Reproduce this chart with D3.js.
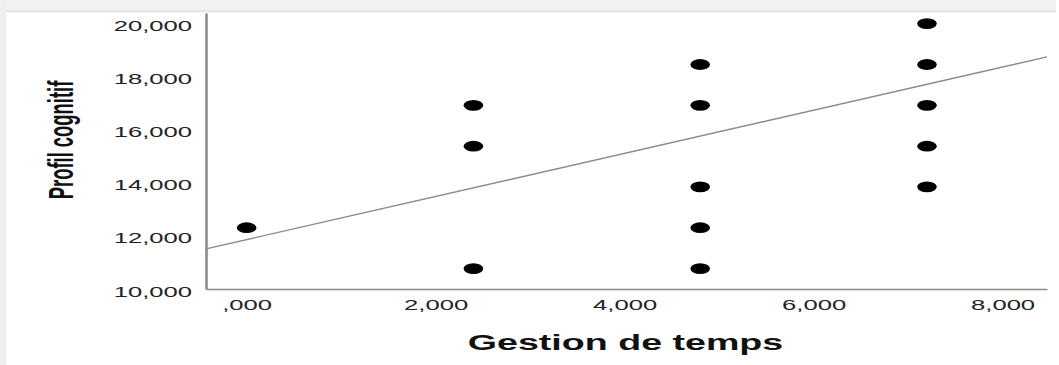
<!DOCTYPE html>
<html>
<head>
<meta charset="utf-8">
<script src="https://cdn.jsdelivr.net/npm/d3@7"></script>
<style>
  html, body { margin: 0; padding: 0; background: #ffffff; }
  svg { display: block; }
  text { font-family: "Liberation Sans", Arial, sans-serif; }
</style>
</head>
<body>
<script>
// Scatter of "Profil cognitif" against "Gestion de temps" with a fitted line
const gestionTemps = [0, 2.4, 2.4, 2.4, 4.8, 4.8, 4.8, 4.8, 4.8, 7.2, 7.2, 7.2, 7.2, 7.2];
const profilCognitif = [12.31, 16.92, 15.38, 10.77, 18.46, 16.92, 13.85, 12.31, 10.77, 20.00, 18.46, 16.92, 15.38, 13.85];

const xTicks = [0, 2, 4, 6, 8];
const xTickLabels = [",000", "2,000", "4,000", "6,000", "8,000"];
const yTicks = [10, 12, 14, 16, 18, 20];
const yTickLabels = ["10,000", "12,000", "14,000", "16,000", "18,000", "20,000"];

// Fit line: intercept and slope
const fitIntercept = 11.86;
const fitSlope = 0.813;

const xTitle = "Gestion de temps";
const yTitle = "Profil cognitif";

const W = 1059, H = 365;
const textStretch = 1.83;

const svg = d3.select("body").append("svg")
  .attr("width", W).attr("height", H);

// Window frame: light grey bands on the top and left edges
svg.append("rect").attr("x", 0).attr("y", 0).attr("width", W).attr("height", H).attr("fill", "#ffffff");
svg.append("rect").attr("x", 0).attr("y", 0).attr("width", 1056).attr("height", 12).attr("fill", "#f1f1f1");
svg.append("rect").attr("x", 6).attr("y", 10).attr("width", 1050).attr("height", 2.5).attr("fill", "#e6e6e6");
svg.append("rect").attr("x", 0).attr("y", 0).attr("width", 6).attr("height", H).attr("fill", "#efefef");

const x = d3.scaleLinear().domain([-0.43, 8.47]).range([206, 1047]);
const y = d3.scaleLinear().domain([10, 20.4]).range([289, 13]);

// Y axis
const yAxis = svg.append("g")
  .attr("transform", `translate(${x.range()[0]},0)`)
  .call(d3.axisLeft(y).tickValues(yTicks).tickSize(0)
    .tickFormat((d, i) => yTickLabels[i]));
yAxis.select(".domain").attr("stroke", "#8c8c8c").attr("stroke-width", 2.6);
yAxis.selectAll(".tick text")
  .attr("x", -14 / textStretch)
  .attr("dy", null)
  .attr("y", 7)
  .attr("transform", `scale(${textStretch},1)`)
  .attr("font-size", 14)
  .attr("font-family", "Liberation Sans, Arial, sans-serif")
  .attr("fill", "#222222");

// X axis
const xAxis = svg.append("g")
  .attr("transform", `translate(0,${y.range()[0]})`)
  .call(d3.axisBottom(x).tickValues(xTicks).tickSize(0)
    .tickFormat((d, i) => xTickLabels[i]));
xAxis.select(".domain").attr("stroke", "#8c8c8c").attr("stroke-width", 1.5);
xAxis.selectAll(".tick text")
  .attr("dy", null)
  .attr("y", 21.5)
  .attr("transform", `scale(${textStretch},1)`)
  .attr("font-size", 14)
  .attr("font-family", "Liberation Sans, Arial, sans-serif")
  .attr("fill", "#222222");

// Fitted line across the plot
const [x0, x1] = x.domain();
svg.append("line")
  .attr("x1", x(x0)).attr("y1", y(fitIntercept + fitSlope * x0))
  .attr("x2", x(x1)).attr("y2", y(fitIntercept + fitSlope * x1))
  .attr("stroke", "#8a8a8a").attr("stroke-width", 1.3);

// Points
svg.append("g").selectAll("ellipse")
  .data(gestionTemps.map((g, i) => ({ g, p: profilCognitif[i] })))
  .join("ellipse")
  .attr("cx", d => x(d.g))
  .attr("cy", d => y(d.p))
  .attr("rx", 9.8)
  .attr("ry", 5.4)
  .attr("fill", "#000000");

// Axis titles
svg.append("g")
  .attr("transform", `translate(625.5,350) scale(1.71,1)`)
  .append("text")
  .attr("text-anchor", "middle")
  .attr("font-size", 22)
  .attr("font-weight", "bold")
  .attr("fill", "#111111")
  .text(xTitle);

svg.append("g")
  .attr("transform", `translate(73,140) rotate(-90) scale(0.92,1.8)`)
  .append("text")
  .attr("text-anchor", "middle")
  .attr("font-size", 20)
  .attr("font-weight", "bold")
  .attr("fill", "#111111")
  .text(yTitle);
</script>
</body>
</html>
